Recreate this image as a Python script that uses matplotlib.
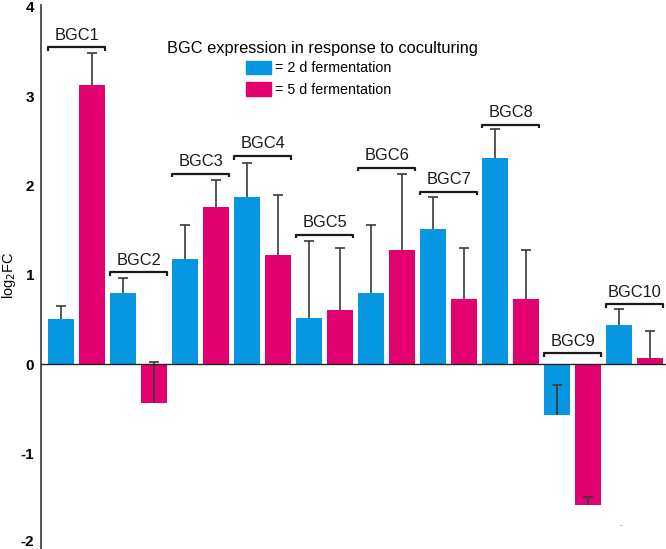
import matplotlib.pyplot as plt
import matplotlib.transforms as mtransforms
from matplotlib.patches import Rectangle
import numpy as np

plt.rcParams['font.family'] = ['Liberation Sans', 'DejaVu Sans']
plt.rcParams['axes.unicode_minus'] = False

# data (log2 fold change, upper error only)
clusters = ['BGC1', 'BGC2', 'BGC3', 'BGC4', 'BGC5', 'BGC6', 'BGC7', 'BGC8', 'BGC9', 'BGC10']
day2 = [0.50, 0.80, 1.18, 1.87, 0.52, 0.80, 1.51, 2.31, -0.57, 0.435]
day2_err = [0.15, 0.16, 0.38, 0.38, 0.86, 0.76, 0.36, 0.32, 0.34, 0.185]
day5 = [3.13, -0.43, 1.76, 1.22, 0.60, 1.28, 0.73, 0.73, -1.58, 0.07]
day5_err = [0.35, 0.45, 0.30, 0.67, 0.70, 0.85, 0.57, 0.55, 0.09, 0.30]
bracket_y = [3.55, 1.03, 2.13, 2.33, 1.45, 2.20, 1.93, 2.68, 0.12, 0.67]

blue = '#0797E2'
pink = '#E3006F'

W, H = 666, 549
fig = plt.figure(figsize=(W/100, H/100), dpi=100)
ax = fig.add_axes([41/W, 0, 1 - 41/W, 544/H])

n = len(clusters)
xb = np.arange(n) * 2
xp = xb + 1
bw = 0.82

ax.bar(xb, day2, width=bw, color=blue, zorder=2)
ax.bar(xp, day5, width=bw, color=pink, zorder=2)

ecol = '#3a3a3a'
for xs, vals, errs in [(xb, day2, day2_err), (xp, day5, day5_err)]:
    _, caps, _ = ax.errorbar(xs, vals, yerr=[np.zeros(n), errs], fmt='none', ecolor=ecol,
                             elinewidth=1.2, capsize=3.5, capthick=1.2, zorder=3)
    caps[0].set_visible(False)  # only the upper cap

ax.axhline(0, color='#222222', lw=1.0, zorder=4)

# brackets + labels
for i, name in enumerate(clusters):
    x0 = xb[i] - 0.41
    x1 = xp[i] + 0.42
    y = bracket_y[i]
    ax.plot([x0, x0, x1, x1], [y - 0.04, y, y, y - 0.04], color='#1a1a1a', lw=1.6,
            solid_capstyle='butt', zorder=5)
    ax.text((x0 + x1) / 2, y + 0.05, name, ha='center', va='bottom', fontsize=11.8,
            color='#1a1a1a')

ax.set_xlim(-0.645, 19.52)
ax.set_ylim(-2.07, 4.02)
ax.set_yticks([-2, -1, 0, 1, 2, 3, 4])
ax.set_yticklabels(['-2', '-1', '0', '1', '2', '3', '4'], fontweight='bold', fontsize=11)
ax.tick_params(axis='y', length=0, pad=5)
# nudge the bottom label up so it is not clipped
lab = ax.get_yticklabels()[0]
lab.set_transform(lab.get_transform() + mtransforms.ScaledTranslation(0, 2/100, fig.dpi_scale_trans))
ax.set_xticks([])
for s in ['top', 'right', 'bottom']:
    ax.spines[s].set_visible(False)
ax.spines['left'].set_color('#555555')
ax.spines['left'].set_linewidth(1.4)
ax.set_ylabel('log$_2$FC', fontsize=10.5)
ax.yaxis.set_label_coords(-0.037, (1.0 + 2.07) / 6.09)

# legend drawn by hand
fig.text(167/W, 1 - 48/H, 'BGC expression in response to coculturing', fontsize=11.8,
         va='center', ha='left')
fig.patches.append(Rectangle((246/W, 1 - 74/H), 25/W, 13/H, transform=fig.transFigure,
                             color=blue))
fig.patches.append(Rectangle((246/W, 1 - 96/H), 25/W, 14/H, transform=fig.transFigure,
                             color=pink))
fig.text(275/W, 1 - 68/H, '= 2 d fermentation', fontsize=10.3, va='center', ha='left')
fig.text(275/W, 1 - 90/H, '= 5 d fermentation', fontsize=10.3, va='center', ha='left')

fig.text(621/W, 1 - 526/H, '-', fontsize=6, color='#777777', ha='center', va='center')

fig.savefig('out.png', dpi=100)
